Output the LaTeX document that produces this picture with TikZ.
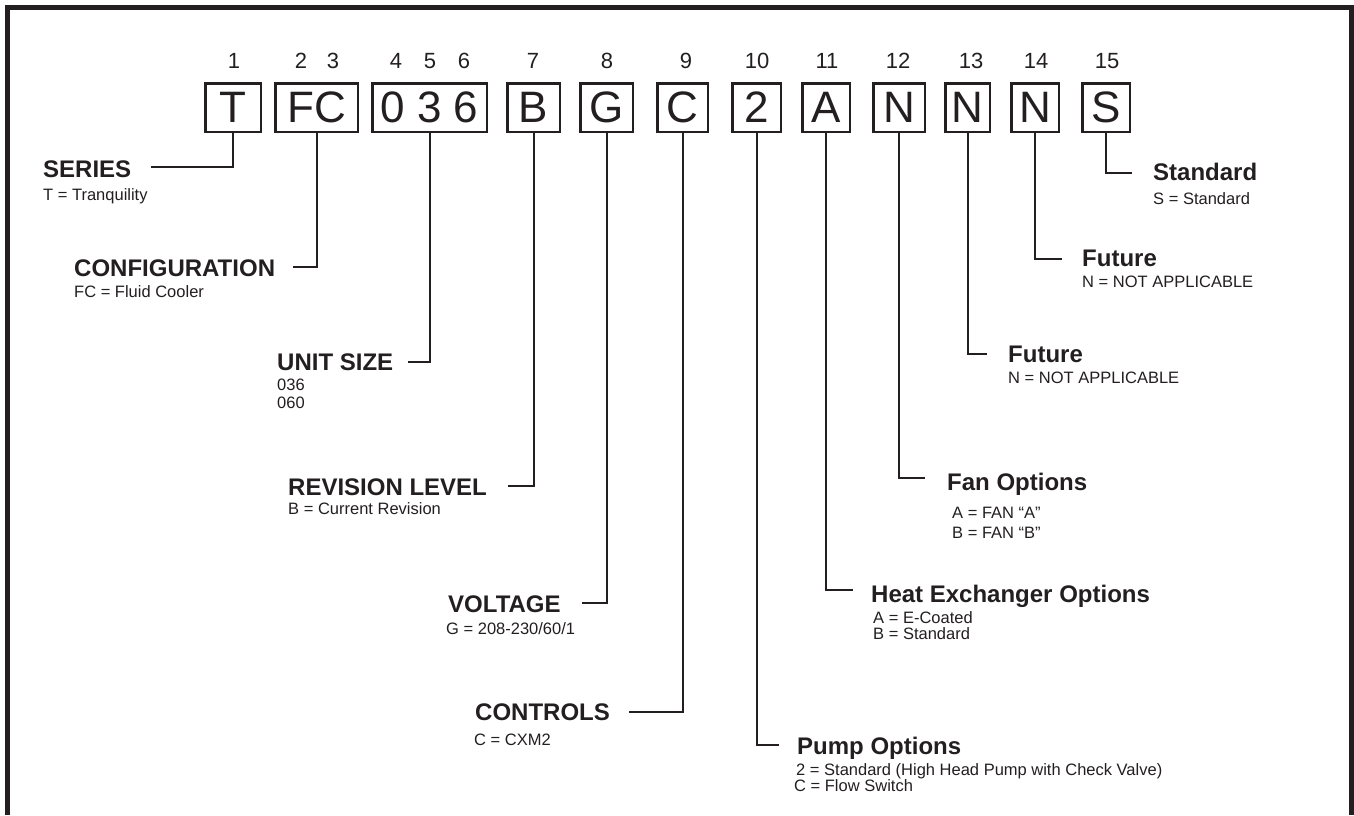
\documentclass[tikz,border=0pt]{standalone}
\usepackage{fontspec}
\setmainfont{Liberation Sans}
\definecolor{ink}{HTML}{231F20}
\begin{document}
\begin{tikzpicture}[x=1pt,y=-1pt,
  box/.style={draw=ink,line width=2.5pt,minimum height=48.5pt,inner sep=0pt,text=ink,font=\fontsize{44}{50}\selectfont},
  num/.style={text=ink,inner sep=0pt,font=\fontsize{22}{26}\selectfont},
  head/.style={anchor=base west,inner sep=0pt,text=ink,font=\fontsize{24}{28}\selectfont\bfseries},
  sub/.style={anchor=base west,inner sep=0pt,text=ink,font=\fontsize{16.5}{19}\selectfont},
  conn/.style={draw=ink,line width=2pt}]
\useasboundingbox (0,0) rectangle (1354,815);
% frame
\draw[ink,line width=5pt,line join=miter] (7.5,815) -- (7.5,7.2) -- (1351.5,7.2) -- (1351.5,815);
% position numbers
\node[num] (n1) at (234,61) {1};
\node[num] (n2) at (301,61) {2};
\node[num] (n3) at (333,61) {3};
\node[num] (n4) at (396,61) {4};
\node[num] (n5) at (430,61) {5};
\node[num] (n6) at (464,61) {6};
\node[num] (n7) at (533,61) {7};
\node[num] (n8) at (607,61) {8};
\node[num] (n9) at (686,61) {9};
\node[num] (n10) at (757,61) {10};
\node[num] (n11) at (827,61) {11};
\node[num] (n12) at (898,61) {12};
\node[num] (n13) at (971,61) {13};
\node[num] (n14) at (1036,61) {14};
\node[num] (n15) at (1107,61) {15};
% boxes
\node[box,minimum width=55.5pt] (bT) at (233,107.5) {T};
\node[box,minimum width=82.5pt] (bFC) at (316.5,107.5) {FC};
\node[box,minimum width=114.5pt] (bSize) at (429.5,107.5) {0 3 6};
\node[box,minimum width=52.5pt] (bB) at (533.5,107.5) {B};
\node[box,minimum width=52.5pt] (bG) at (606.5,107.5) {G};
\node[box,minimum width=50.5pt] (bC) at (682.5,107.5) {C};
\node[box,minimum width=48.5pt] (b2) at (756.5,107.5) {2};
\node[box,minimum width=47.5pt] (bA) at (826,107.5) {A};
\node[box,minimum width=51.5pt] (bN1) at (899,107.5) {N};
\node[box,minimum width=44.5pt] (bN2) at (967.5,107.5) {N};
\node[box,minimum width=47.5pt] (bN3) at (1035,107.5) {N};
\node[box,minimum width=47.5pt] (bS) at (1106,107.5) {S};
% labels left
\node[head] (lSeries) at (43,177) {SERIES};
\node[sub] (sSeries) at (43,200) {T = Tranquility};
\node[head] (lConf) at (74,276) {CONFIGURATION};
\node[sub] (sConf) at (74,297) {FC = Fluid Cooler};
\node[head] (lSize) at (277,370) {UNIT SIZE};
\node[sub] (sSize1) at (277,390) {036};
\node[sub] (sSize2) at (277,408) {060};
\node[head] (lRev) at (288,495) {REVISION LEVEL};
\node[sub] (sRev) at (288,514) {B = Current Revision};
\node[head] (lVolt) at (448,612) {VOLTAGE};
\node[sub] (sVolt) at (446,634) {G = 208-230/60/1};
\node[head] (lCtrl) at (475,720) {CONTROLS};
\node[sub] (sCtrl) at (474,745) {C = CXM2};
% labels right
\node[head] (lStd) at (1153,180) {Standard};
\node[sub] (sStd) at (1153,204) {S = Standard};
\node[head] (lFut1) at (1082,266) {Future};
\node[sub] (sFut1) at (1082,287) {N = NOT APPLICABLE};
\node[head] (lFut2) at (1008,362) {Future};
\node[sub] (sFut2) at (1008,383) {N = NOT APPLICABLE};
\node[head] (lFan) at (947,490) {Fan Options};
\node[sub] (sFan1) at (952,518) {A = FAN “A”};
\node[sub] (sFan2) at (952,538) {B = FAN “B”};
\node[head] (lHx) at (871,602) {Heat Exchanger Options};
\node[sub] (sHx1) at (873,623) {A = E-Coated};
\node[sub] (sHx2) at (873,639) {B = Standard};
\node[head] (lPump) at (797,754) {Pump Options};
\node[sub] (sPump1) at (796,775) {2 = Standard (High Head Pump with Check Valve)};
\node[sub] (sPump2) at (794,791) {C = Flow Switch};
% connector ends
\coordinate (eSeries) at (151,167);
\coordinate (eConf) at (293,267);
\coordinate (eSize) at (408,362);
\coordinate (eRev) at (508,486);
\coordinate (eVolt) at (582,603);
\coordinate (eCtrl) at (629,712);
\coordinate (ePump) at (779,745);
\coordinate (eHx) at (853,590);
\coordinate (eFan) at (925,478);
\coordinate (eFut2) at (987,354);
\coordinate (eFut1) at (1062,259);
\coordinate (eStd) at (1132,173);
% connectors
\draw[conn] (bT.south) |- (eSeries);
\draw[conn] (bFC.south) |- (eConf);
\draw[conn] (bSize.south) |- (eSize);
\draw[conn] (bB.south) |- (eRev);
\draw[conn] (bG.south) |- (eVolt);
\draw[conn] (bC.south) |- (eCtrl);
\draw[conn] (b2.south) |- (ePump);
\draw[conn] (bA.south) |- (eHx);
\draw[conn] (bN1.south) |- (eFan);
\draw[conn] (bN2.south) |- (eFut2);
\draw[conn] (bN3.south) |- (eFut1);
\draw[conn] (bS.south) |- (eStd);
\end{tikzpicture}
\end{document}
